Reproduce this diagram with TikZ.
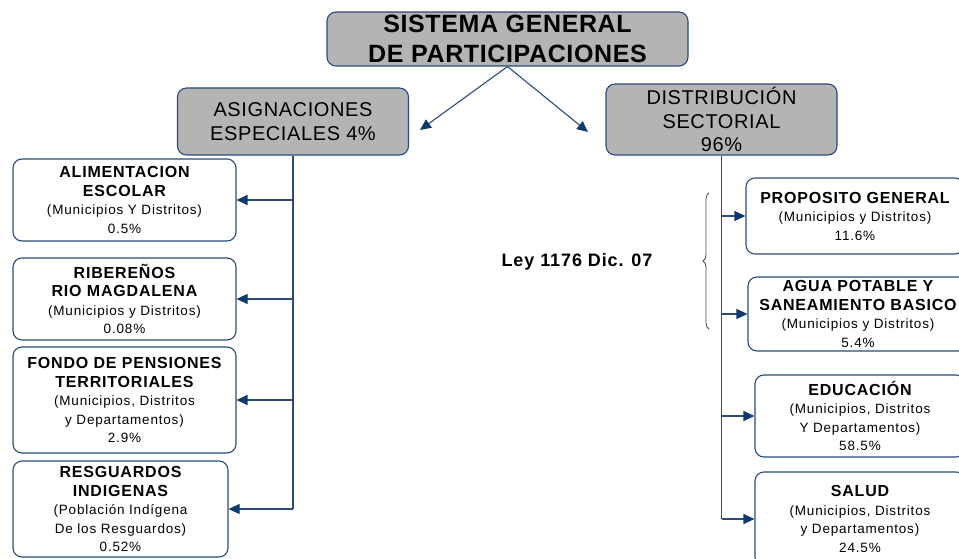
\documentclass[tikz,border=0pt]{standalone}
\usepackage{fontspec}
\setmainfont{Liberation Sans}
\usetikzlibrary{arrows.meta, decorations.pathreplacing}

\definecolor{linecol}{HTML}{2A4B7C}
\definecolor{tipcol}{HTML}{0F3A6E}
\definecolor{boxgray}{HTML}{B4B4B4}
\definecolor{bracecol}{HTML}{4A4A4A}

\newcommand{\boxhead}{\fontsize{16}{18.5}\selectfont\bfseries\addfontfeatures{LetterSpace=5}}
\newcommand{\boxsub}{\fontsize{13.5}{18.5}\selectfont\addfontfeatures{LetterSpace=6}}

\tikzset{
    graybox/.style={draw=linecol, fill=boxgray, rounded corners=9pt, line width=1.1pt, align=center, inner sep=0pt,
        font=\fontsize{20}{23.5}\selectfont\addfontfeatures{LetterSpace=3}},
    whitebox/.style={draw=linecol, fill=white, rounded corners=9pt, line width=1.1pt, align=center, inner sep=0pt,
        font=\fontsize{13.5}{18.5}\selectfont},
    link/.style={draw=linecol, line width=1.1pt},
    tip/.style={-{Triangle[length=11pt, width=10pt, color=tipcol]}}
}

\begin{document}
\begin{tikzpicture}[x=1pt, y=-1pt]
    \useasboundingbox (0,0) rectangle (959,559);

    % top and second level
    \node[graybox, minimum width=361, minimum height=54, font=\fontsize{25}{30}\selectfont\bfseries\addfontfeatures{LetterSpace=2.5}] (sgp) at (507.5, 39) {SISTEMA GENERAL\\DE PARTICIPACIONES};
    \node[graybox, minimum width=231, minimum height=67] (asig) at (293, 121.5) {ASIGNACIONES\\ESPECIALES 4\%};
    \node[graybox, minimum width=231, minimum height=71] (dist) at (721.5, 119.5) {DISTRIBUCIÓN\\SECTORIAL\\96\%};
    \coordinate (sgpL) at (420, 130);
    \coordinate (sgpR) at (588, 132);
    \draw[link, tip] (sgp.south) -- (sgpL);
    \draw[link, tip] (sgp.south) -- (sgpR);

    % asignaciones especiales
    \node[whitebox, minimum width=223, minimum height=82] (ali) at (124.5, 200) {{\boxhead ALIMENTACION}\\{\boxhead ESCOLAR}\\{\boxsub (Municipios Y Distritos)}\\{\boxsub 0.5\%}};
    \node[whitebox, minimum width=223, minimum height=82] (rib) at (124.5, 299) {{\boxhead RIBEREÑOS}\\{\boxhead RIO MAGDALENA}\\{\boxsub (Municipios y Distritos)}\\{\boxsub 0.08\%}};
    \node[whitebox, minimum width=223, minimum height=106] (fon) at (124.5, 400) {{\boxhead FONDO DE PENSIONES}\\{\boxhead TERRITORIALES}\\{\boxsub (Municipios, Distritos}\\{\boxsub y Departamentos)}\\{\boxsub 2.9\%}};
    \node[whitebox, minimum width=215, minimum height=96] (res) at (120.5, 509) {{\boxhead RESGUARDOS}\\{\boxhead INDIGENAS}\\{\boxsub (Población Indígena}\\{\boxsub De los Resguardos)}\\{\boxsub 0.52\%}};
    \draw[link] (asig.south) -- (asig.south |- res.east);
    \foreach \n in {ali, rib, fon, res}
        \draw[link, tip] (asig.south |- \n.east) -- (\n.east);

    % distribucion sectorial
    \node[whitebox, minimum width=218, minimum height=76] (pro) at (855, 216) {{\boxhead PROPOSITO GENERAL}\\{\boxsub (Municipios y Distritos)}\\{\boxsub 11.6\%}};
    \node[whitebox, minimum width=220, minimum height=74] (agua) at (858, 314) {{\boxhead AGUA POTABLE Y}\\{\boxhead SANEAMIENTO BASICO}\\{\boxsub (Municipios y Distritos)}\\{\boxsub 5.4\%}};
    \node[whitebox, minimum width=210, minimum height=82] (edu) at (860, 416) {{\boxhead EDUCACIÓN}\\{\boxsub (Municipios, Distritos}\\{\boxsub Y Departamentos)}\\{\boxsub 58.5\%}};
    \node[whitebox, minimum width=210, minimum height=94] (sal) at (860, 519) {{\boxhead SALUD}\\{\boxsub (Municipios, Distritos}\\{\boxsub y Departamentos)}\\{\boxsub 24.5\%}};
    \draw[link] (dist.south) -- (dist.south |- sal.west);
    \foreach \n in {pro, agua, edu, sal}
        \draw[link, tip] (dist.south |- \n.west) -- (\n.west);

    % ley
    \node[font=\fontsize{18}{20}\selectfont\bfseries\addfontfeatures{LetterSpace=5}] (ley) at (577, 262) {Ley 1176 Dic. 07};
    \coordinate (braceB) at (709, 329);
    \coordinate (braceT) at (709, 193);
    \draw[bracecol, line width=0.8pt, decorate, decoration={brace, amplitude=6pt}] (braceB) -- (braceT);
\end{tikzpicture}
\end{document}
